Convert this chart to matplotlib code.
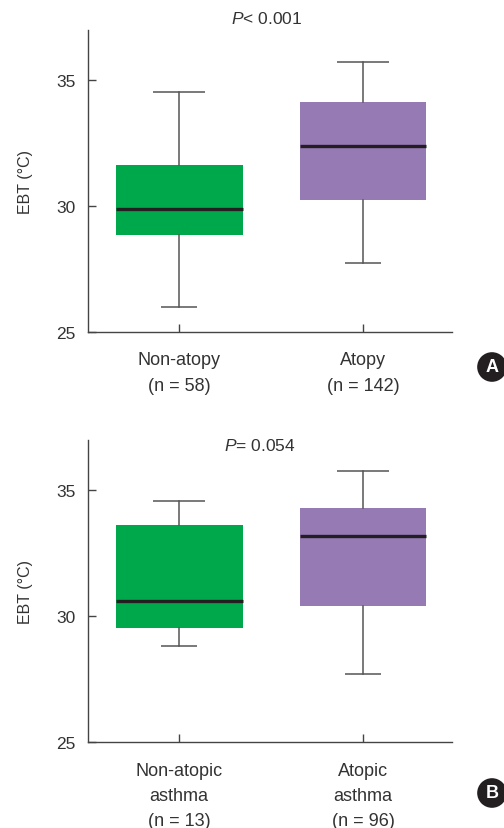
import matplotlib
matplotlib.use("Agg")
import matplotlib.pyplot as plt

plt.rcParams['font.family'] = ['Liberation Sans', 'DejaVu Sans']
plt.rcParams['mathtext.fontset'] = 'custom'
plt.rcParams['mathtext.it'] = 'Liberation Sans:italic'
plt.rcParams['mathtext.rm'] = 'Liberation Sans'

# Panel A
labels_a = ["Non-atopy\n(n = 58)", "Atopy\n(n = 142)"]
whislo_a = [25.99, 27.75]
q1_a = [28.86, 30.25]
med_a = [29.87, 32.38]
q3_a = [31.63, 34.12]
whishi_a = [34.53, 35.72]
title_a = r"$\mathit{P}$< 0.001"

# Panel B
labels_b = ["Non-atopic\nasthma\n(n = 13)", "Atopic\nasthma\n(n = 96)"]
whislo_b = [28.82, 27.72]
q1_b = [29.54, 30.41]
med_b = [30.58, 33.17]
q3_b = [33.58, 34.28]
whishi_b = [34.54, 35.75]
title_b = r"$\mathit{P}$= 0.054"

colors = ["#00A84C", "#957AB4"]
yticks = [25, 30, 35]

W, H = 504, 829
fig = plt.figure(figsize=(W / 100, H / 100), dpi=100)

def panel(rect, labels, wl, q1, med, q3, wh, title, tpos, letter, lpos):
    ax = fig.add_axes(rect)
    stats = []
    for i in range(len(labels)):
        stats.append(dict(whislo=wl[i], q1=q1[i], med=med[i], q3=q3[i], whishi=wh[i], fliers=[]))
    pos = [1, 2]
    bp = ax.bxp(stats, positions=pos, widths=0.69, patch_artist=True, showcaps=False,
                showfliers=False,
                boxprops=dict(linewidth=0),
                whiskerprops=dict(color="#555555", linewidth=1.1),
                medianprops=dict(color="#231F20", linewidth=2.4, solid_capstyle='butt'))
    for patch, c in zip(bp['boxes'], colors):
        patch.set_facecolor(c)
        patch.set_edgecolor(c)
    for p, lo, hi in zip(pos, wl, wh):
        ax.hlines(hi, p - 0.143, p + 0.143, color="#555555", linewidth=1.1)
        ax.hlines(lo, p - 0.10, p + 0.10, color="#555555", linewidth=1.1)
    ax.set_xlim(0.505, 2.484)
    ax.set_ylim(25, 36.97)
    ax.set_yticks(yticks)
    ax.set_yticklabels([str(t) for t in yticks])
    ax.set_xticks(pos)
    ax.set_xticklabels(labels, linespacing=1.62, va='top')
    for s in ['top', 'right']:
        ax.spines[s].set_visible(False)
    for s in ['left', 'bottom']:
        ax.spines[s].set_color('#444444')
        ax.spines[s].set_linewidth(1.0)
    ax.tick_params(axis='y', direction='in', length=6, width=1, color='#444444',
                   labelsize=12.5, labelcolor='#333333', pad=9)
    ax.tick_params(axis='x', direction='in', length=6, width=1, color='#444444',
                   labelsize=13, labelcolor='#333333', pad=14)
    ax.set_ylabel("EBT (°C)", fontsize=11.5, color='#333333', labelpad=17)
    ax.text(tpos[0], tpos[1], title, transform=ax.transAxes, ha='center', va='center',
            fontsize=12.5, color='#333333')
    fig.text(lpos[0], lpos[1], letter, ha='center', va='center', fontsize=13,
             fontweight='bold', color='white',
             bbox=dict(boxstyle='circle,pad=0.35', fc='#231F20', ec='none'))
    return ax

panel([88 / W, 1 - 333 / H, 364 / W, 302 / H], labels_a, whislo_a, q1_a, med_a, q3_a, whishi_a,
      title_a, (0.492, 1.04), "A", (492 / W, 1 - 368 / H))
panel([88 / W, 1 - 743.3 / H, 364 / W, 302.6 / H], labels_b, whislo_b, q1_b, med_b, q3_b, whishi_b,
      title_b, (0.473, 0.983), "B", (492 / W, 1 - 794 / H))

fig.savefig("out.png", dpi=100, facecolor='white')
